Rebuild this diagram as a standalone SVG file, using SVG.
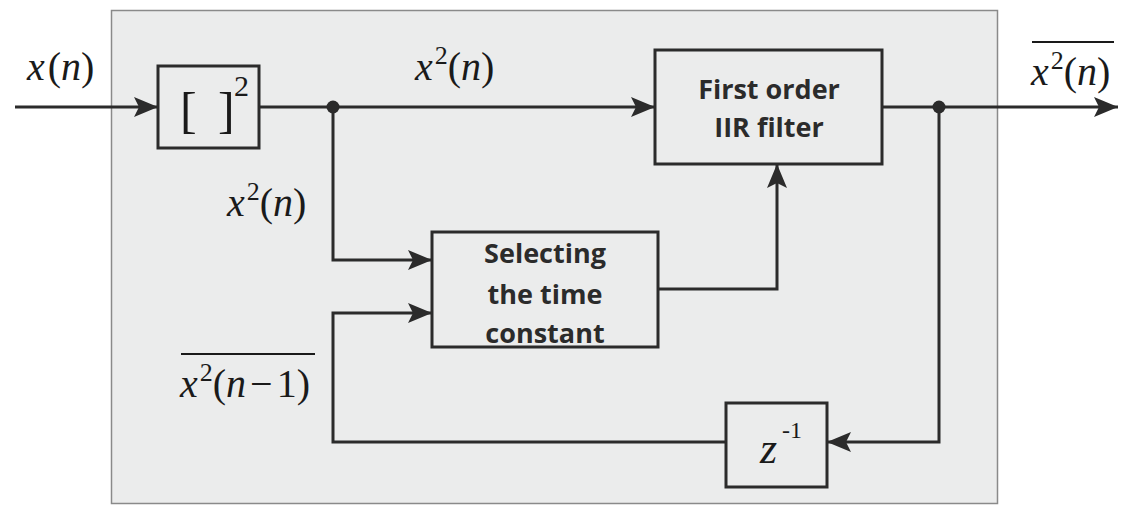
<svg xmlns="http://www.w3.org/2000/svg" width="1124" height="505" viewBox="0 0 1124 505">
<style>
.blk{fill:none;stroke:#2b2b2b;stroke-width:3}
.ln{fill:none;stroke:#2b2b2b;stroke-width:3}
.m{font-family:"Liberation Serif",serif;font-size:40px;fill:#1a1a1a}
.i{font-style:italic}
.sup{font-size:26px}
.b{font-family:"Open Sans","DejaVu Sans",sans-serif;font-weight:bold;font-size:27px;fill:#2b2b2b;text-anchor:middle}
.ov{stroke:#1a1a1a;stroke-width:2}
</style>
<defs>
<marker id="ah" viewBox="0 0 24 20" refX="24" refY="10" markerWidth="24" markerHeight="20" markerUnits="userSpaceOnUse" orient="auto">
<path d="M0,0 L24,10 L0,20 L5,10 Z" fill="#2b2b2b"/>
</marker>
</defs>
<rect x="111.5" y="10.5" width="886" height="493" fill="#ebecec" stroke="#8a8a8a" stroke-width="1.5"/>

<g id="connectors">
<line class="ln" x1="15" y1="107" x2="158" y2="107" marker-end="url(#ah)"/>
<line class="ln" x1="259" y1="107" x2="655" y2="107" marker-end="url(#ah)"/>
<line class="ln" x1="882" y1="107" x2="1118" y2="107" marker-end="url(#ah)"/>
<polyline class="ln" points="333,107 333,260 432,260" marker-end="url(#ah)"/>
<polyline class="ln" points="658,289 777,289 777,164" marker-end="url(#ah)"/>
<polyline class="ln" points="939,107 939,442 827,442" marker-end="url(#ah)"/>
<polyline class="ln" points="726,442 333,442 333,313 432,313" marker-end="url(#ah)"/>
<circle cx="333" cy="107" r="6.5" fill="#2b2b2b"/>
<circle cx="939" cy="107" r="6.5" fill="#2b2b2b"/>
</g>

<g id="square">
<rect class="blk" x="158" y="66" width="101" height="82"/>
<text class="m" x="180" y="127" style="font-size:50px">[</text>
<text class="m" x="218" y="127" style="font-size:50px">]</text>
<text class="m" x="234" y="96" style="font-size:30px">2</text>
</g>

<g id="iir">
<rect class="blk" x="655" y="50" width="227" height="114"/>
<text class="b" x="769" y="99">First order</text>
<text class="b" x="769" y="137">IIR filter</text>
</g>

<g id="select">
<rect class="blk" x="432" y="232" width="226" height="115"/>
<text class="b" x="545" y="263">Selecting</text>
<text class="b" x="545" y="304">the time</text>
<text class="b" x="545" y="343">constant</text>
</g>

<g id="delay">
<rect class="blk" x="726" y="403" width="101" height="84"/>
<text class="m i" x="760" y="463" style="font-size:44px">z</text>
<text class="m" x="782" y="438" style="font-size:24px">-1</text>
</g>

<g id="labels">
<text class="m" x="27" y="80"><tspan class="i">x</tspan><tspan dx="3">(</tspan><tspan class="i">n</tspan><tspan>)</tspan></text>
<text class="m" x="415" y="80"><tspan class="i">x</tspan><tspan class="sup" dx="2" dy="-16">2</tspan><tspan dy="16">(</tspan><tspan class="i">n</tspan><tspan>)</tspan></text>
<text class="m" x="227" y="216"><tspan class="i">x</tspan><tspan class="sup" dx="2" dy="-16">2</tspan><tspan dy="16">(</tspan><tspan class="i">n</tspan><tspan>)</tspan></text>
<line class="ov" x1="1032" y1="42" x2="1114" y2="42"/>
<text class="m" x="1031" y="85"><tspan class="i">x</tspan><tspan class="sup" dx="2" dy="-16">2</tspan><tspan dy="16">(</tspan><tspan class="i">n</tspan><tspan>)</tspan></text>
<line class="ov" x1="181" y1="354" x2="315" y2="354"/>
<text class="m" x="180" y="397"><tspan class="i">x</tspan><tspan class="sup" dx="2" dy="-16">2</tspan><tspan dy="16">(</tspan><tspan class="i">n</tspan><tspan dx="4">−</tspan><tspan dx="4">1)</tspan></text>
</g>
</svg>
